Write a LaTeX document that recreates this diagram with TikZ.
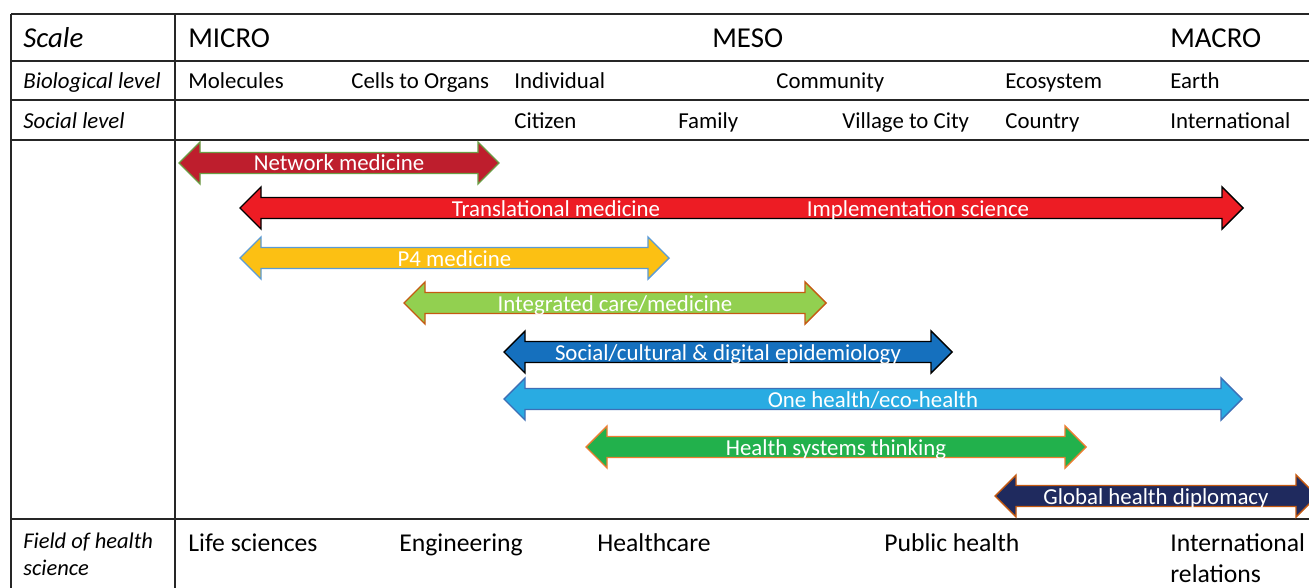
\documentclass[tikz,border=0pt]{standalone}
\usepackage{fontspec}
\setmainfont{Carlito}
\definecolor{netred}{HTML}{BE1E2D}
\definecolor{netgreen}{HTML}{6A9E45}
\definecolor{transred}{HTML}{ED1C24}
\definecolor{pgold}{HTML}{FCC013}
\definecolor{pblue}{HTML}{5B9BD5}
\definecolor{intgreen}{HTML}{92D050}
\definecolor{intbrown}{HTML}{C55A11}
\definecolor{socblue}{HTML}{1570BE}
\definecolor{onecyan}{HTML}{29ABE2}
\definecolor{oneblue}{HTML}{3D6FB6}
\definecolor{hsgreen}{HTML}{22B14C}
\definecolor{hsorange}{HTML}{ED7D31}
\definecolor{navy}{HTML}{1F2A5E}
\tikzstyle{grid}=[line width=0.9pt,black!85]
\tikzstyle{scalehead}=[anchor=base west,inner sep=0,font=\fontsize{16.4}{19}\selectfont]
\tikzstyle{level}=[anchor=base west,inner sep=0,font=\fontsize{13}{15}\selectfont]
\tikzstyle{field}=[anchor=base west,inner sep=0,font=\fontsize{14.6}{17}\selectfont]
\tikzstyle{lbl}=[anchor=base,inner sep=0,text=white,font=\fontsize{13}{15}\selectfont]
% band: name, left tip, right tip, y, colours, text
\newcommand{\band}[6]{%
\draw[#5,line width=0.8pt,line join=miter] (#2,#4)--(#2+21,#4-21)--(#2+21,#4-10.5)--(#3-21,#4-10.5)--(#3-21,#4-21)--(#3,#4)--(#3-21,#4+21)--(#3-21,#4+10.5)--(#2+21,#4+10.5)--(#2+21,#4+21)--cycle;
\node[lbl] (#1) at ({(#2+#3)/2},#4+8) {#6};}

\begin{document}
\begin{tikzpicture}[x=0.02cm,y=-0.02cm]
\clip (0,0) rectangle (1309,588);
\fill[white] (0,0) rectangle (1309,588);
% table
\draw[grid] (11,14)--(1309,14);
\foreach \y in {61,100,140,519} \draw[grid] (11,\y)--(1309,\y);
\draw[grid] (11,14)--(11,588);
\draw[grid] (175,14)--(175,588);
% scale row
\node[scalehead,font=\fontsize{16.4}{19}\selectfont\itshape] (scale) at (23,48) {Scale};
\node[scalehead] (micro) at (188,48) {MICRO};
\node[scalehead] (meso) at (712,48) {MESO};
\node[scalehead] (macro) at (1170,48) {MACRO};
% biological level
\node[level,font=\fontsize{13}{15}\selectfont\itshape] (bio) at (23,89) {Biological level};
\node[level] (molecules) at (188,89) {Molecules};
\node[level] (cells) at (351,89) {Cells to Organs};
\node[level] (individual) at (514,89) {Individual};
\node[level] (community) at (776,89) {Community};
\node[level] (ecosystem) at (1005,89) {Ecosystem};
\node[level] (earth) at (1170,89) {Earth};
% social level
\node[level,font=\fontsize{13}{15}\selectfont\itshape] (social) at (23,129) {Social level};
\node[level] (citizen) at (514,129) {Citizen};
\node[level] (family) at (678,129) {Family};
\node[level] (village) at (842,129) {Village to City};
\node[level] (country) at (1005,129) {Country};
\node[level] (international) at (1170,129) {International};
% bands
\band{network}{179}{499}{163}{fill=netred,draw=netgreen}{Network medicine}
\band{transl}{240}{1243}{208}{fill=transred,draw=black}{}
\node[lbl] (translational) at (556,216) {Translational medicine};
\node[lbl] (implementation) at (918,216) {Implementation science};
\band{pfour}{240}{669}{258}{fill=pgold,draw=pblue}{P4 medicine}
\band{integrated}{404}{826}{303}{fill=intgreen,draw=intbrown}{Integrated care/medicine}
\band{socialepi}{504}{952}{352}{fill=socblue,draw=black}{Social/cultural \& digital epidemiology}
\band{onehealth}{504}{1242}{399}{fill=onecyan,draw=oneblue}{One health/eco-health}
\band{hsystems}{586}{1086}{447}{fill=hsgreen,draw=hsorange}{Health systems thinking}
\band{global}{995}{1317}{496}{fill=navy,draw=intbrown}{Global health diplomacy}
% fields
\node[level,font=\fontsize{12.8}{15}\selectfont\itshape] (fieldof) at (23,548) {Field of health};
\node[level,font=\fontsize{12.8}{15}\selectfont\itshape] (science) at (23,575) {science};
\node[field] (life) at (188,551) {Life sciences};
\node[field] (engineering) at (399,551) {Engineering};
\node[field] (healthcare) at (597,551) {Healthcare};
\node[field] (public) at (884,551) {Public health};
\node[field] (intl) at (1170,551) {International};
\node[field] (relations) at (1170,582) {relations};
\end{tikzpicture}
\end{document}
